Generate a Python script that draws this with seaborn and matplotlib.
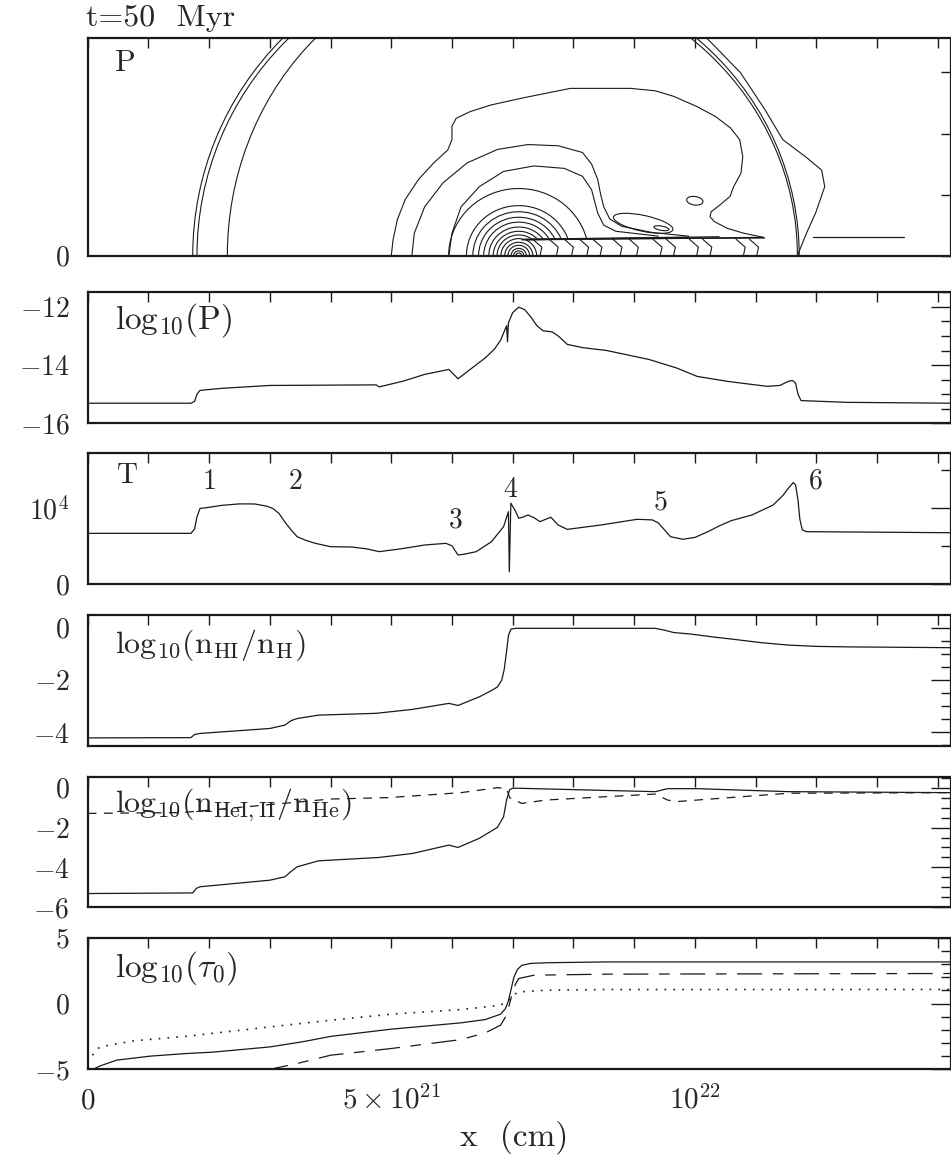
import numpy as np
import matplotlib
matplotlib.use("Agg")
import matplotlib.pyplot as plt
from matplotlib.patches import Arc, Ellipse
from matplotlib.ticker import FixedLocator, MultipleLocator, NullFormatter, FixedFormatter
import seaborn as sns

sns.set_theme(style="white")
plt.rcParams['font.family'] = ['cmr10', 'DejaVu Serif']
plt.rcParams['mathtext.fontset'] = 'cm'
plt.rcParams['axes.formatter.use_mathtext'] = True

# x in units of 1e21 cm
X_MAX = 14.22

# --- log10(P) along the axis
p_x = [0, 1.70, 1.76, 1.80, 1.85, 2.2, 3.00, 4.75, 4.80, 5.2, 5.55, 5.95, 6.10, 6.3, 6.55, 6.7,
       6.80, 6.90, 6.915, 6.93, 7.00, 7.10, 7.2, 7.3, 7.4, 7.5, 7.65, 7.75, 7.90, 8.15, 8.55,
       9.25, 9.7, 10.04, 10.54, 11.19, 11.4, 11.55, 11.61, 11.66, 11.70, 11.75, 12.5, 14.22]
p_y = [-15.31, -15.31, -15.25, -15.0, -14.87, -14.8, -14.7, -14.68, -14.75, -14.55, -14.32, -14.15,
       -14.47, -14.15, -13.75, -13.45, -13.15, -12.65, -13.2, -12.55, -12.2, -12.01, -12.1,
       -12.35, -12.65, -12.82, -12.86, -13.0, -13.29, -13.40, -13.50, -13.81, -14.1, -14.39,
       -14.56, -14.73, -14.70, -14.55, -14.53, -14.62, -15.0, -15.22, -15.28, -15.31]

# --- temperature (K)
t_x = [0, 1.70, 1.76, 1.80, 1.85, 2.00, 2.2, 2.5, 2.75, 2.95, 3.05, 3.15, 3.25, 3.35, 3.45, 3.6,
       3.75, 4.00, 4.35, 4.6, 4.80, 5.15, 5.55, 5.90, 6.00, 6.10, 6.20, 6.40, 6.65, 6.85, 6.93,
       6.945, 6.97, 7.05, 7.10, 7.18, 7.25, 7.35, 7.45, 7.55, 7.63, 7.75, 7.90, 8.45, 9.05, 9.30,
       9.4, 9.5, 9.6, 9.8, 10.0, 10.2, 10.4, 10.6, 10.94, 11.29, 11.45, 11.54, 11.62, 11.66,
       11.70, 11.73, 11.77, 11.84, 14.22]
t_y = [6640, 6640, 7200, 8800, 9900, 10050, 10300, 10500, 10490, 10200, 9900, 9260, 8100, 7100,
       6200, 5700, 5330, 4890, 4850, 4600, 4240, 4600, 5110, 5330, 5000, 3800, 3900, 4240, 5540,
       7510, 9480, 1600, 10600, 9500, 8610, 8800, 9040, 8700, 8170, 8500, 8740, 7730, 7160, 7730,
       8480, 8400, 8000, 7100, 6200, 5860, 6100, 6800, 7600, 8300, 9040, 10350, 11600, 12540,
       13280, 13000, 11000, 8500, 7100, 6860, 6720]
front_lab = ["1", "2", "3", "4", "5", "6"]
front_x = [2.0, 3.42, 6.07, 6.96, 9.43, 12.0]
front_t = [13400, 13400, 8400, 12300, 10700, 13400]

# --- log10(n_HI/n_H)
hi_x = [0, 1.70, 1.76, 1.85, 3.00, 3.25, 3.35, 3.45, 3.80, 4.75, 5.35, 5.95, 6.10, 6.45, 6.65,
        6.75, 6.82, 6.86, 6.90, 6.93, 6.97, 7.05, 9.35, 9.5, 9.65, 9.94, 10.3, 10.64, 11.1, 11.54,
        12.0, 12.54, 14.22]
hi_y = [-4.21, -4.20, -4.08, -4.04, -3.85, -3.72, -3.55, -3.47, -3.34, -3.27, -3.12, -2.89, -2.97,
        -2.64, -2.4, -2.26, -2.0, -1.6, -0.9, -0.3, -0.05, -0.02, -0.02, -0.09, -0.18, -0.24,
        -0.35, -0.44, -0.57, -0.66, -0.71, -0.73, -0.76]

# --- log10(n_HeI/n_He) solid, log10(n_HeII/n_He) dashed
hei_x = [0, 1.73, 1.79, 1.85, 3.00, 3.25, 3.35, 3.45, 3.80, 4.80, 5.35, 5.95, 6.10, 6.45, 6.75,
         6.85, 6.90, 6.95, 7.0, 7.10, 9.35, 9.55, 10.04, 11.54, 14.22]
hei_y = [-5.31, -5.28, -5.05, -4.97, -4.64, -4.47, -4.2, -3.97, -3.67, -3.50, -3.30, -2.88, -3.0,
         -2.54, -1.99, -1.46, -0.62, -0.1, -0.03, -0.03, -0.2, -0.05, -0.05, -0.2, -0.25]
heii_x = [0, 1.55, 2.75, 4.00, 4.95, 6.15, 6.75, 6.90, 6.95, 7.15, 7.55, 8.55, 9.35, 9.55, 9.70,
          10.04, 11.54, 14.22]
heii_y = [-1.29, -1.25, -0.92, -0.57, -0.50, -0.25, 0.0, -0.05, -0.5, -0.79, -0.62, -0.45, -0.32,
          -0.62, -0.70, -0.62, -0.28, -0.25]

# --- log10(tau_0): solid, dashed, dotted
tau1_x = [0.0, 0.09, 0.2, 0.48, 1.03, 1.63, 2.05, 3.0, 3.55, 4.0, 5.0, 6.15, 6.55, 6.80, 6.88,
          6.93, 6.97, 7.02, 7.08, 7.15, 7.3, 7.6, 8.55, 14.22]
tau1_y = [-5.3, -5.0, -4.75, -4.3, -4.0, -3.8, -3.7, -3.3, -2.9, -2.5, -1.95, -1.47, -1.22, -0.81,
          -0.4, 0.2, 1.0, 2.0, 2.6, 2.9, 3.05, 3.1, 3.16, 3.16]
tau2_x = [2.9, 3.0, 3.45, 4.0, 5.0, 6.15, 6.55, 6.80, 6.90, 6.95, 7.00, 7.05, 7.10, 7.35, 8.55, 14.22]
tau2_y = [-5.2, -5.0, -4.56, -3.93, -3.42, -2.74, -2.23, -1.65, -0.89, 0.0, 0.88, 1.5, 1.9, 2.15,
          2.23, 2.28]
tau3_x = [0.0, 0.04, 0.12, 0.2, 0.75, 1.63, 3.0, 4.0, 5.0, 6.15, 6.80, 6.95, 7.00, 7.10, 7.55,
          8.55, 14.22]
tau3_y = [-4.5, -4.16, -3.68, -3.30, -2.84, -2.49, -1.78, -1.27, -0.81, -0.46, -0.13, 0.3, 0.63,
          0.88, 1.01, 1.06, 1.07]

# --- 2D pressure map (x, y in 1e21 cm)
Y_MAX = 3.56
shell_cx = 6.75
shell_rx = [5.02, 4.95, 4.45, 4.94, 4.97]
shell_ry = [5.02, 4.95, 4.82, 4.66, 4.74]
shell_t1 = [90, 90, 90, 0, 0]
shell_t2 = [180, 180, 180, 90, 90]
shell_wave = [(10.2, 3.56), (10.75, 3.0), (11.15, 2.4), (11.45, 1.9), (11.85, 1.6), (12.09, 1.4),
              (12.14, 1.13), (11.99, 0.70), (11.84, 0.37), (11.69, 0.0)]
dome1 = [(5.00, 0.00), (5.03, 0.26), (5.10, 0.59), (5.23, 0.92), (5.45, 1.25), (5.70, 1.52),
         (5.93, 1.73), (6.00, 1.90), (6.00, 2.12), (6.07, 2.25), (6.30, 2.36), (6.65, 2.47),
         (7.15, 2.58), (7.55, 2.66), (7.95, 2.74), (8.94, 2.74), (9.35, 2.70), (9.65, 2.61),
         (10.04, 2.44), (10.34, 2.28), (10.59, 2.09), (10.74, 1.90), (10.79, 1.62), (10.76, 1.35),
         (10.64, 1.13), (10.58, 0.97), (10.40, 0.82), (10.27, 0.72), (10.25, 0.64), (10.32, 0.56),
         (10.53, 0.45), (10.8, 0.37), (11.13, 0.30)]
dome2 = [(5.34, 0.0), (5.38, 0.37), (5.55, 0.80), (5.85, 1.19), (6.25, 1.52), (6.75, 1.74),
         (7.25, 1.82), (7.75, 1.80), (8.15, 1.69), (8.3, 1.5), (8.4, 1.25), (8.45, 1.0), (8.5, 0.8),
         (8.6, 0.6), (8.8, 0.48), (9.3, 0.38), (9.9, 0.32)]
dome3 = [(5.95, 0.0), (6.0, 0.37), (6.15, 0.80), (6.45, 1.13), (6.85, 1.38), (7.35, 1.47),
         (7.85, 1.43), (8.15, 1.30), (8.3, 1.08), (8.4, 0.7), (8.5, 0.5), (8.7, 0.4), (9.4, 0.32)]
nest_cx = 7.1
nest_r = [1.1, 0.82, 0.72, 0.63, 0.55, 0.47, 0.40, 0.34, 0.28, 0.22, 0.17, 0.12, 0.08, 0.045]
streak_x0 = [7.15, 7.2, 7.25, 7.3, 11.95]
streak_x1 = [9.9, 10.4, 11.13, 11.15, 13.44]
streak_y0 = [0.26, 0.27, 0.26, 0.27, 0.30]
streak_y1 = [0.30, 0.31, 0.30, 0.29, 0.30]
wave_x = [7.45, 7.72, 7.97, 8.22, 8.44, 8.77, 9.04, 9.43, 9.65, 10.03, 10.25, 10.8, 11.02]
wave_dx = [-0.12, 0.03, 0.0]
wave_y = [0.27, 0.14, 0.0]
loop_c = [(9.15, 0.53), (9.45, 0.45), (10.0, 0.90)]
loop_w = [1.0, 0.25, 0.27]
loop_h = [0.26, 0.07, 0.14]
loop_a = [-12, -10, -8]

LW = 0.9
fig = plt.figure(figsize=(9.51, 11.61), dpi=100)
left, width = 87.7 / 951, 1 - 87.7 / 951
rows = [(38.3, 255.7), (292.3, 423.3), (453.3, 584.0), (615.0, 746.0), (776.7, 907.3), (937.7, 1069.3)]
axes = [fig.add_axes([left, 1 - b / 1161, width, (b - t) / 1161]) for t, b in rows]


def style(ax, ylim, ymaj, ylab, ymin, big=True):
    ax.set_xlim(0, X_MAX)
    ax.set_ylim(*ylim)
    ax.xaxis.set_major_locator(FixedLocator([0, 5, 10]))
    ax.xaxis.set_minor_locator(MultipleLocator(1))
    ax.xaxis.set_major_formatter(NullFormatter())
    ax.yaxis.set_major_locator(FixedLocator(ymaj))
    ax.yaxis.set_major_formatter(FixedFormatter(ylab))
    ax.yaxis.set_minor_locator(MultipleLocator(ymin))
    ax.tick_params(which='both', direction='in', top=True, right=True, width=1.0, color='k')
    ax.tick_params(axis='x', which='both', length=7.5)
    ax.tick_params(axis='y', which='major', length=14.5 if big else 7.5, labelsize=20, pad=13)
    ax.tick_params(axis='y', which='minor', length=7.2)
    for s in ax.spines.values():
        s.set_linewidth(1.6)
        s.set_color('k')
    ax.set_xlabel('')
    ax.set_ylabel('')


def curve(ax, xs, ys, **kw):
    sns.lineplot(x=xs, y=ys, ax=ax, color='k', lw=kw.pop('lw', LW), sort=False,
                 estimator=None, legend=False, **kw)


def trace(ax, pts, lw=0.8):
    curve(ax, [p[0] for p in pts], [p[1] for p in pts], lw=lw)


# panel 1: pressure contours
ax = axes[0]
for rx, ry, a1, a2 in zip(shell_rx, shell_ry, shell_t1, shell_t2):
    ax.add_patch(Arc((shell_cx, 0), 2 * rx, 2 * ry, theta1=a1, theta2=a2, color='k', lw=0.8))
for d in (shell_wave, dome1, dome2, dome3):
    trace(ax, d)
for r in nest_r:
    a1 = np.degrees(np.arcsin(min(0.27 / r, 1.0))) if r > 0.28 else 0
    ax.add_patch(Arc((nest_cx, 0), 2 * r * 1.05, 2 * r, theta1=a1, theta2=180, color='k', lw=0.8))
for x0, x1, y0, y1 in zip(streak_x0, streak_x1, streak_y0, streak_y1):
    curve(ax, [x0, x1], [y0, y1], lw=0.9)
for xw in wave_x:
    curve(ax, [xw + d for d in wave_dx], wave_y, lw=0.8)
for c, w, h, a in zip(loop_c, loop_w, loop_h, loop_a):
    ax.add_patch(Ellipse(c, w, h, angle=a, fill=False, color='k', lw=0.8))
style(ax, (0, Y_MAX), [0], [r'$0$'], 1, big=False)
ax.text(0.032, 0.885, 'P', transform=ax.transAxes, fontsize=22, ha='left', va='center')

# panel 2
ax = axes[1]
curve(ax, p_x, p_y)
style(ax, (-16, -11.5), [-16, -14, -12], [r'$-16$', r'$-14$', r'$-12$'], 0.5)
ax.text(0.032, 0.79, r'$\mathrm{log}_{10}(\mathrm{P})$', transform=ax.transAxes, fontsize=24,
        ha='left', va='center')

# panel 3
ax = axes[2]
curve(ax, t_x, t_y)
style(ax, (0, 17130), [0, 10000], [r'$0$', r'$10^4$'], 5000)
ax.text(0.034, 0.83, 'T', transform=ax.transAxes, fontsize=21, ha='left', va='center')
for lab, fx, ft in zip(front_lab, front_x, front_t):
    ax.text(fx, ft, lab, fontsize=20, ha='center', va='center')

# panel 4
ax = axes[3]
curve(ax, hi_x, hi_y)
style(ax, (-4.52, 0.49), [-4, -2, 0], [r'$-4$', r'$-2$', r'$0$'], 0.5)
ax.text(0.032, 0.77, r'$\mathrm{log}_{10}(\mathrm{n_{HI}/n_H})$', transform=ax.transAxes,
        fontsize=23, ha='left', va='center')

# panel 5
ax = axes[4]
curve(ax, hei_x, hei_y)
curve(ax, heii_x, heii_y, linestyle=(0, (7, 6)))
style(ax, (-6, 0.55), [-6, -4, -2, 0], [r'$-6$', r'$-4$', r'$-2$', r'$0$'], 0.5)
ax.text(0.032, 0.78, r'$\mathrm{log}_{10}(\mathrm{n_{HeI,II}/n_{He}})$', transform=ax.transAxes,
        fontsize=23, ha='left', va='center')

# panel 6
ax = axes[5]
curve(ax, tau1_x, tau1_y)
curve(ax, tau2_x, tau2_y, linestyle=(0, (20, 8.5, 8.5, 8.5)))
curve(ax, tau3_x, tau3_y, lw=1.2, linestyle=(0, (1, 4.3)))
style(ax, (-5, 5), [-5, 0, 5], [r'$-5$', r'$0$', r'$5$'], 1)
ax.text(0.032, 0.77, r'$\mathrm{log}_{10}(\tau_0)$', transform=ax.transAxes, fontsize=24,
        ha='left', va='center')
ax.xaxis.set_major_formatter(FixedFormatter([r'$0$', r'$5\times10^{21}$', r'$10^{22}$']))
ax.tick_params(axis='x', labelsize=21, pad=28)
plt.setp(ax.get_xticklabels(), va='baseline')

fig.text(86 / 951, 1 - 18 / 1161, 't=50  Myr', fontsize=23, ha='left', va='center')
fig.text(514 / 951, 1 - 1137 / 1161, 'x  (cm)', fontsize=24, ha='center', va='center')

fig.savefig('out.png', dpi=100)
